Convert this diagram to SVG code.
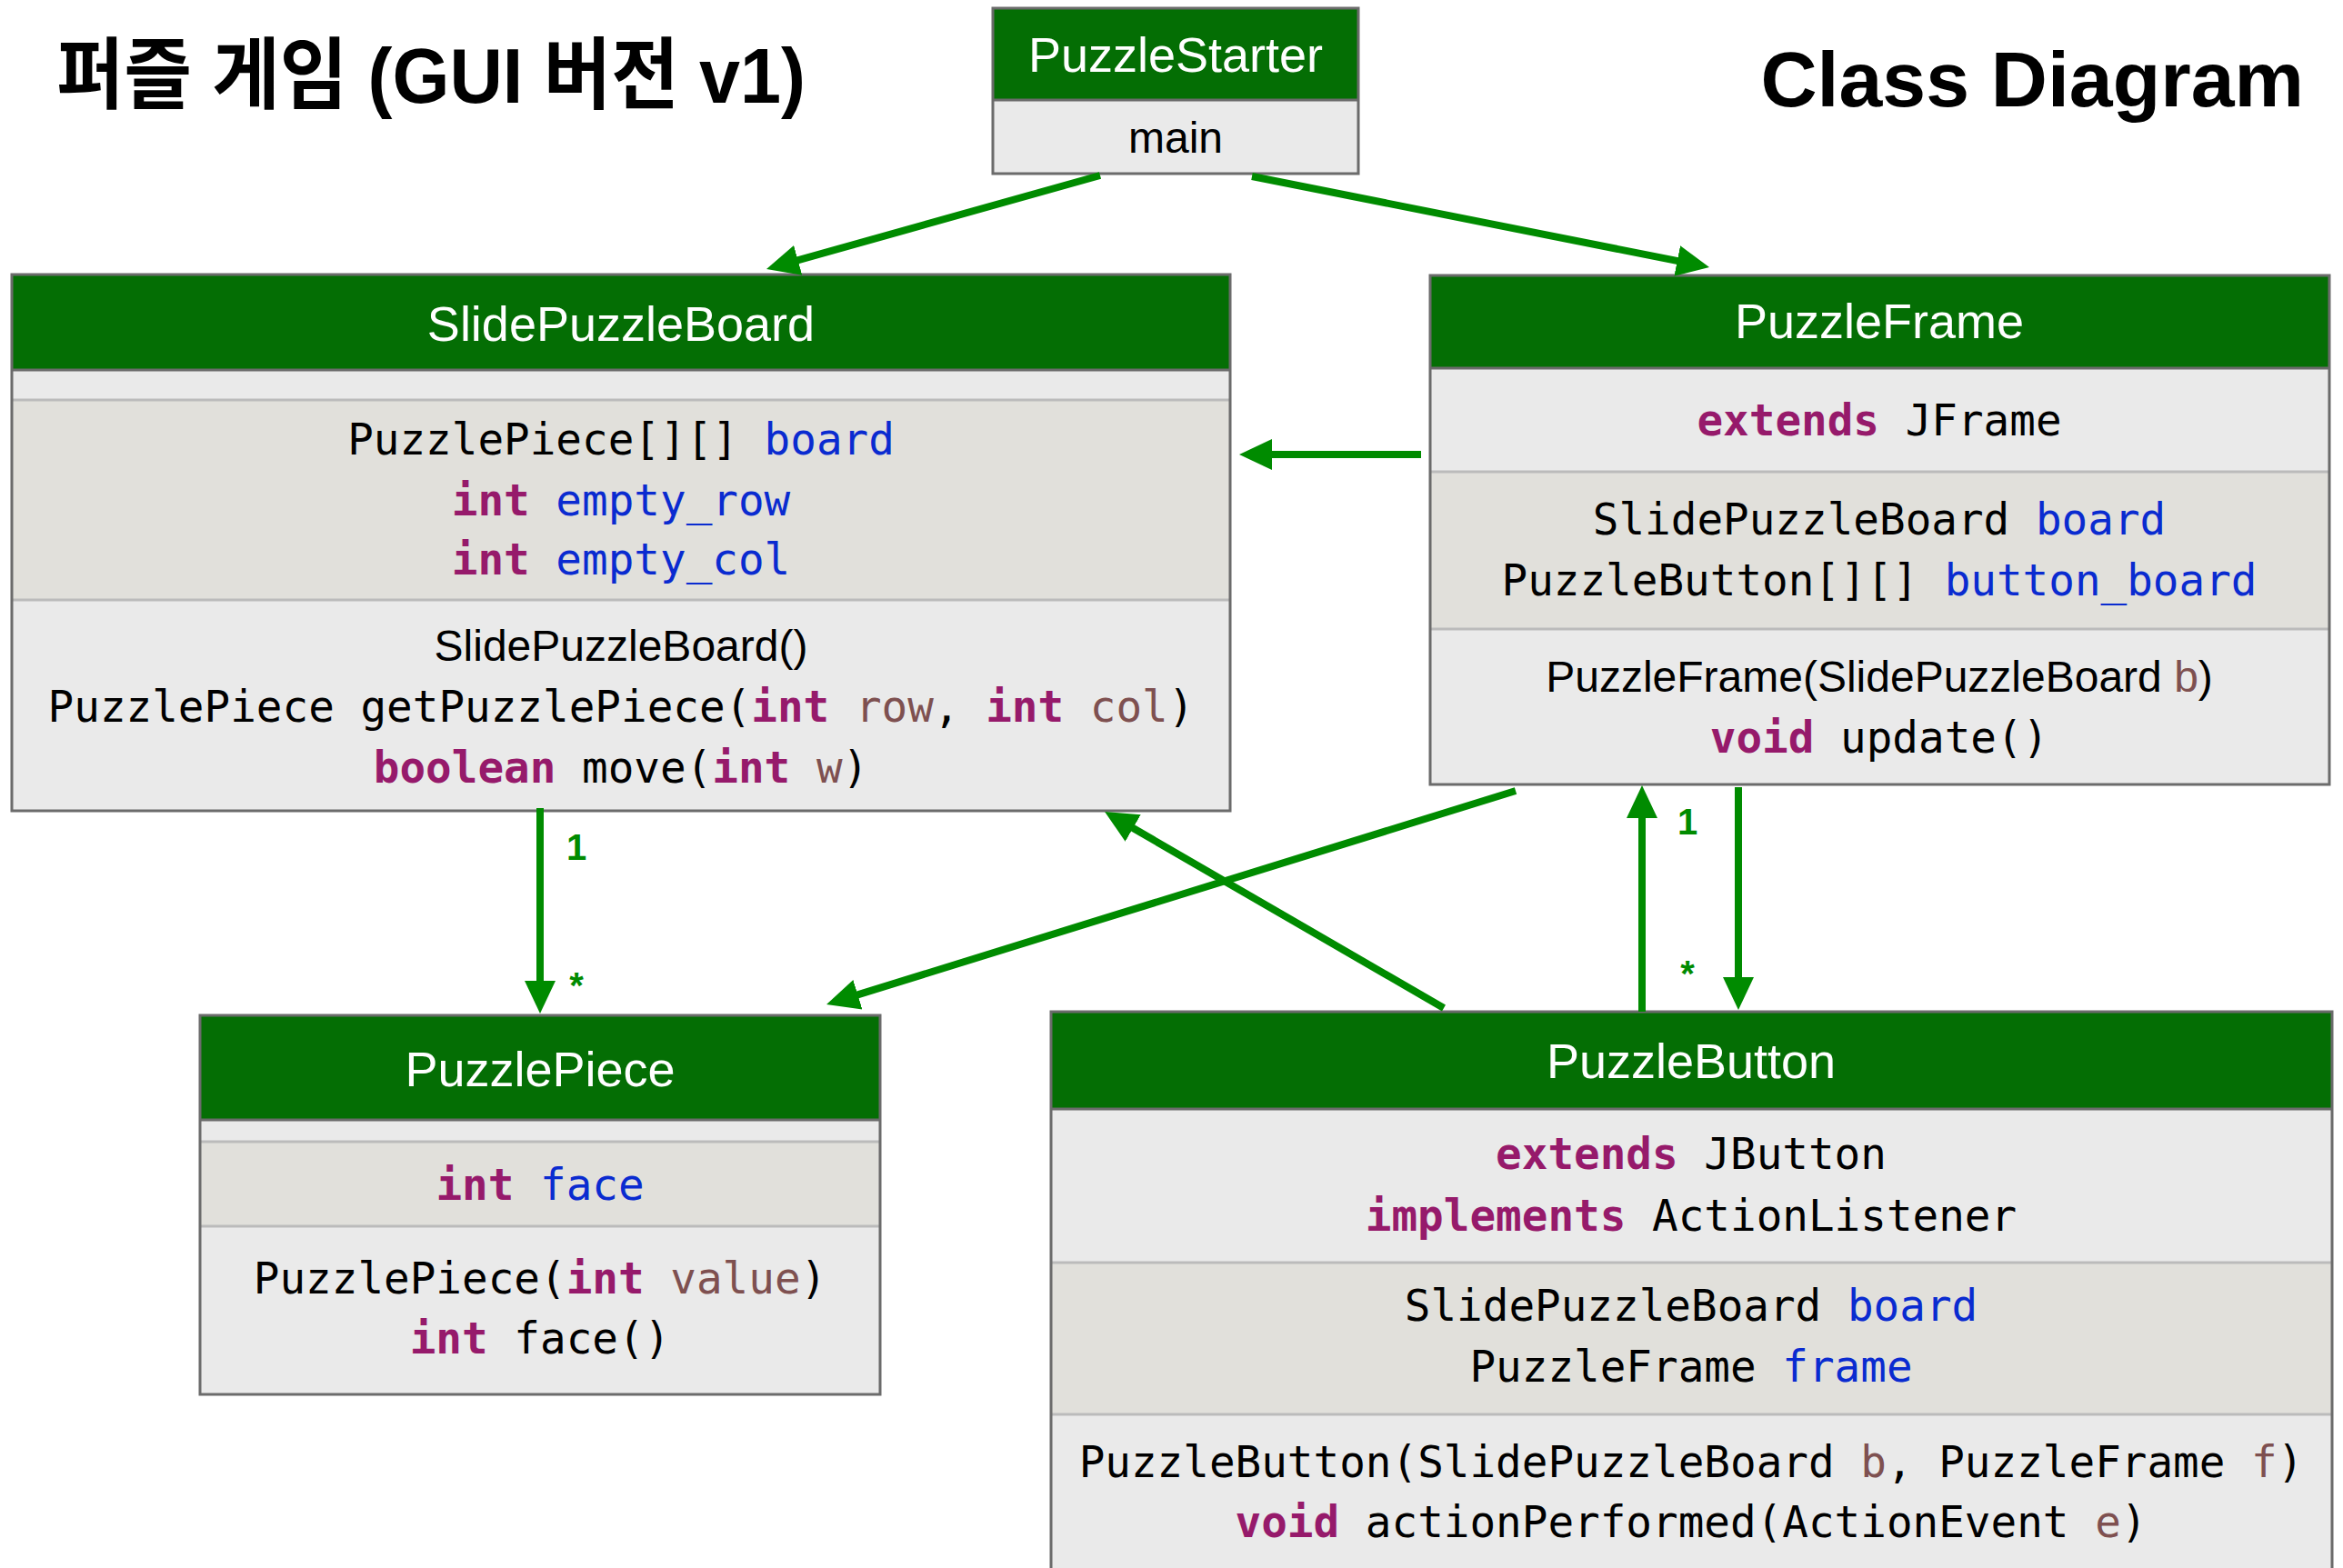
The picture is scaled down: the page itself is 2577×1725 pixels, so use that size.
<svg xmlns="http://www.w3.org/2000/svg" width="2577" height="1725" viewBox="0 0 2577 1725">
  <style>
    .title { font-family: "Liberation Sans", "Noto Sans CJK KR", sans-serif; font-weight: bold; font-size: 86px; fill: #000; }
    .hdr { fill: #046e04; }
    .sec { fill: #eaeaea; }
    .fld { fill: #e1e0db; }
    .div { stroke: #bbbbbb; stroke-width: 3; }
    .frame { fill: none; stroke: #6b6b6b; stroke-width: 3; }
    .name { font-family: "Liberation Sans", Arial, sans-serif; font-size: 54px; fill: #ffffff; text-anchor: middle; }
    .sans { font-family: "Liberation Sans", Arial, sans-serif; font-size: 48px; fill: #000; text-anchor: middle; }
    .mono { font-family: "DejaVu Sans Mono", "Liberation Mono", monospace; font-size: 47.6px; fill: #000; text-anchor: middle; }
    .kw { fill: #961a6b; font-weight: bold; }
    .id { fill: #0a2bd0; }
    .par { fill: #7e5050; }
    .conn { stroke: #008b00; stroke-width: 8; fill: none; marker-end: url(#head); }
    .mult { font-family: "Liberation Sans", Arial, sans-serif; font-weight: bold; font-size: 40px; fill: #008b00; text-anchor: middle; }
  </style>
  <defs>
    <marker id="head" markerUnits="userSpaceOnUse" markerWidth="40" markerHeight="40" viewBox="0 -20 40 40" refX="6" refY="0" orient="auto">
      <path d="M0,-17 L36,0 L0,17 Z" fill="#008b00"/>
    </marker>
  </defs>

  <rect width="2577" height="1725" fill="#ffffff"/>

  <!-- titles -->
  <text class="title" x="62" y="113" textLength="824" lengthAdjust="spacingAndGlyphs">퍼즐 게임 (GUI 버전 v1)</text>
  <text class="title" x="2534" y="117" text-anchor="end">Class Diagram</text>

  <!-- PuzzleStarter -->
  <g id="PuzzleStarter">
    <rect class="hdr" x="1092" y="9" width="402" height="101"/>
    <rect class="sec" x="1092" y="110" width="402" height="81"/>
    <line x1="1092" y1="110" x2="1494" y2="110" stroke="#6b6b6b" stroke-width="3"/>
    <rect class="frame" x="1092" y="9" width="402" height="182"/>
    <text class="name" x="1293" y="79">PuzzleStarter</text>
    <text class="sans" x="1293" y="168">main</text>
  </g>

  <!-- SlidePuzzleBoard -->
  <g id="SlidePuzzleBoard">
    <rect class="hdr" x="13" y="302" width="1340" height="105"/>
    <rect class="sec" x="13" y="407" width="1340" height="33"/>
    <rect class="fld" x="13" y="440" width="1340" height="220"/>
    <rect class="sec" x="13" y="660" width="1340" height="232"/>
    <line x1="13" y1="407" x2="1353" y2="407" stroke="#6b6b6b" stroke-width="3"/>
    <line class="div" x1="13" y1="440" x2="1353" y2="440"/>
    <line class="div" x1="13" y1="660" x2="1353" y2="660"/>
    <rect class="frame" x="13" y="302" width="1340" height="590"/>
    <text class="name" x="683" y="375">SlidePuzzleBoard</text>
    <text class="mono" x="683" y="500">PuzzlePiece[][] <tspan class="id">board</tspan></text>
    <text class="mono" x="683" y="567"><tspan class="kw">int</tspan> <tspan class="id">empty_row</tspan></text>
    <text class="mono" x="683" y="632"><tspan class="kw">int</tspan> <tspan class="id">empty_col</tspan></text>
    <text class="sans" x="683" y="727">SlidePuzzleBoard()</text>
    <text class="mono" x="683" y="794">PuzzlePiece getPuzzlePiece(<tspan class="kw">int</tspan> <tspan class="par">row</tspan>, <tspan class="kw">int</tspan> <tspan class="par">col</tspan>)</text>
    <text class="mono" x="683" y="861"><tspan class="kw">boolean</tspan> move(<tspan class="kw">int</tspan> <tspan class="par">w</tspan>)</text>
  </g>

  <!-- PuzzleFrame -->
  <g id="PuzzleFrame">
    <rect class="hdr" x="1573" y="303" width="989" height="102"/>
    <rect class="sec" x="1573" y="405" width="989" height="114"/>
    <rect class="fld" x="1573" y="519" width="989" height="173"/>
    <rect class="sec" x="1573" y="692" width="989" height="171"/>
    <line x1="1573" y1="405" x2="2562" y2="405" stroke="#6b6b6b" stroke-width="3"/>
    <line class="div" x1="1573" y1="519" x2="2562" y2="519"/>
    <line class="div" x1="1573" y1="692" x2="2562" y2="692"/>
    <rect class="frame" x="1573" y="303" width="989" height="560"/>
    <text class="name" x="2067" y="372">PuzzleFrame</text>
    <text class="mono" x="2067" y="479"><tspan class="kw">extends</tspan> JFrame</text>
    <text class="mono" x="2067" y="588">SlidePuzzleBoard <tspan class="id">board</tspan></text>
    <text class="mono" x="2067" y="655">PuzzleButton[][] <tspan class="id">button_board</tspan></text>
    <text class="sans" x="2067" y="761">PuzzleFrame(SlidePuzzleBoard <tspan class="par">b</tspan>)</text>
    <text class="mono" x="2067" y="828"><tspan class="kw">void</tspan> update()</text>
  </g>

  <!-- PuzzlePiece -->
  <g id="PuzzlePiece">
    <rect class="hdr" x="220" y="1117" width="748" height="115"/>
    <rect class="sec" x="220" y="1232" width="748" height="24"/>
    <rect class="fld" x="220" y="1256" width="748" height="93"/>
    <rect class="sec" x="220" y="1349" width="748" height="185"/>
    <line x1="220" y1="1232" x2="968" y2="1232" stroke="#6b6b6b" stroke-width="3"/>
    <line class="div" x1="220" y1="1256" x2="968" y2="1256"/>
    <line class="div" x1="220" y1="1349" x2="968" y2="1349"/>
    <rect class="frame" x="220" y="1117" width="748" height="417"/>
    <text class="name" x="594" y="1195">PuzzlePiece</text>
    <text class="mono" x="594" y="1320"><tspan class="kw">int</tspan> <tspan class="id">face</tspan></text>
    <text class="mono" x="594" y="1423">PuzzlePiece(<tspan class="kw">int</tspan> <tspan class="par">value</tspan>)</text>
    <text class="mono" x="594" y="1489"><tspan class="kw">int</tspan> face()</text>
  </g>

  <!-- PuzzleButton (runs past the lower edge) -->
  <g id="PuzzleButton">
    <rect class="hdr" x="1156" y="1113" width="1409" height="107"/>
    <rect class="sec" x="1156" y="1220" width="1409" height="169"/>
    <rect class="fld" x="1156" y="1389" width="1409" height="167"/>
    <rect class="sec" x="1156" y="1556" width="1409" height="200"/>
    <line x1="1156" y1="1220" x2="2565" y2="1220" stroke="#6b6b6b" stroke-width="3"/>
    <line class="div" x1="1156" y1="1389" x2="2565" y2="1389"/>
    <line class="div" x1="1156" y1="1556" x2="2565" y2="1556"/>
    <rect class="frame" x="1156" y="1113" width="1409" height="650"/>
    <text class="name" x="1860" y="1186">PuzzleButton</text>
    <text class="mono" x="1860" y="1286"><tspan class="kw">extends</tspan> JButton</text>
    <text class="mono" x="1860" y="1354"><tspan class="kw">implements</tspan> ActionListener</text>
    <text class="mono" x="1860" y="1453">SlidePuzzleBoard <tspan class="id">board</tspan></text>
    <text class="mono" x="1860" y="1520">PuzzleFrame <tspan class="id">frame</tspan></text>
    <text class="mono" x="1860" y="1625">PuzzleButton(SlidePuzzleBoard <tspan class="par">b</tspan>, PuzzleFrame <tspan class="par">f</tspan>)</text>
    <text class="mono" x="1860" y="1691"><tspan class="kw">void</tspan> actionPerformed(ActionEvent <tspan class="par">e</tspan>)</text>
  </g>

  <!-- connectors -->
  <g id="connectors">
    <line class="conn" x1="1210" y1="193" x2="871.9" y2="287.9"/>
    <line class="conn" x1="1377" y1="194" x2="1850.6" y2="288.2"/>
    <line class="conn" x1="1563" y1="500" x2="1393" y2="500"/>
    <line class="conn" x1="594" y1="889" x2="594" y2="1085"/>
    <line class="conn" x1="1667" y1="870" x2="937.7" y2="1096.1"/>
    <line class="conn" x1="1588" y1="1109" x2="1241" y2="908"/>
    <line class="conn" x1="1806" y1="1113" x2="1806" y2="894"/>
    <line class="conn" x1="1912" y1="866" x2="1912" y2="1081"/>
    <text class="mult" x="634" y="946">1</text>
    <text class="mult" x="634" y="1098">*</text>
    <text class="mult" x="1856" y="918">1</text>
    <text class="mult" x="1856" y="1085">*</text>
  </g>
</svg>
